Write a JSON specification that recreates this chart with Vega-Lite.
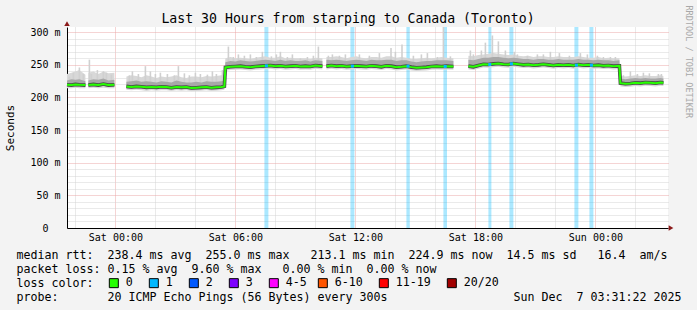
{
  "$schema": "https://vega.github.io/schema/vega-lite/v6.json",
  "width": 601,
  "height": 201,
  "autosize": "none",
  "padding": {"left": 67, "top": 27, "right": 29, "bottom": 82},
  "background": "#f3f3f3",
  "config": {"view": {"fill": "white", "stroke": null}, "font": "DejaVu Sans Mono"},
  "title": {
    "text": "Last 30 Hours from starping to Canada (Toronto)",
    "font": "DejaVu Sans Mono", "fontSize": 13.2, "fontWeight": "normal", "color": "black",
    "anchor": "middle", "frame": "group", "dx": -19.5, "dy": 31.5, "offset": 0, "baseline": "alphabetic"
  },
  "datasets": {
    "rtt": [
      {"s":1,"t":-2.42,"m":219.5,"lo":214,"q1":216.5,"q3":226,"hi":236},
      {"s":1,"t":-2.2,"m":219,"lo":214,"q1":216,"q3":228,"hi":238},
      {"s":1,"t":-2.0,"m":220,"lo":215,"q1":217,"q3":227,"hi":240},
      {"s":1,"t":-1.8,"m":219.5,"lo":214,"q1":216.5,"q3":228,"hi":242},
      {"s":1,"t":-1.5,"m":219,"lo":214,"q1":216,"q3":225,"hi":235},
      {"s":2,"t":-1.35,"m":219,"lo":214,"q1":216,"q3":226,"hi":238},
      {"s":2,"t":-1.1,"m":220,"lo":215,"q1":217,"q3":228,"hi":240},
      {"s":2,"t":-0.85,"m":219,"lo":214,"q1":216,"q3":227,"hi":236},
      {"s":2,"t":-0.6,"m":220.5,"lo":215,"q1":217.5,"q3":229,"hi":240},
      {"s":2,"t":-0.35,"m":219,"lo":214,"q1":216,"q3":226,"hi":237},
      {"s":2,"t":-0.05,"m":219.5,"lo":214,"q1":216.5,"q3":227,"hi":238},
      {"s":3,"t":0.55,"m":217,"lo":212,"q1":214,"q3":224,"hi":232},
      {"s":3,"t":0.8,"m":216,"lo":211,"q1":213,"q3":225,"hi":234},
      {"s":3,"t":1.05,"m":217,"lo":212,"q1":214,"q3":226,"hi":233},
      {"s":3,"t":1.3,"m":216.5,"lo":211,"q1":213.5,"q3":224,"hi":231},
      {"s":3,"t":1.55,"m":215.5,"lo":210,"q1":212.5,"q3":225,"hi":234},
      {"s":3,"t":1.8,"m":216,"lo":211,"q1":213,"q3":224,"hi":232},
      {"s":3,"t":2.05,"m":215.5,"lo":210.5,"q1":212.5,"q3":223,"hi":230},
      {"s":3,"t":2.3,"m":216.5,"lo":211,"q1":213.5,"q3":225,"hi":232},
      {"s":3,"t":2.55,"m":216,"lo":211,"q1":213,"q3":224,"hi":231},
      {"s":3,"t":2.8,"m":215,"lo":210,"q1":212,"q3":223,"hi":232},
      {"s":3,"t":3.05,"m":216,"lo":211,"q1":213,"q3":226,"hi":234},
      {"s":3,"t":3.3,"m":215.5,"lo":210.5,"q1":212.5,"q3":224,"hi":231},
      {"s":3,"t":3.55,"m":216,"lo":211,"q1":213,"q3":223,"hi":230},
      {"s":3,"t":3.8,"m":214.5,"lo":209.5,"q1":211.5,"q3":223,"hi":232},
      {"s":3,"t":4.05,"m":215,"lo":210,"q1":212,"q3":224,"hi":232},
      {"s":3,"t":4.3,"m":215.5,"lo":210.5,"q1":212.5,"q3":223,"hi":231},
      {"s":3,"t":4.55,"m":216,"lo":211,"q1":213,"q3":225,"hi":233},
      {"s":3,"t":4.8,"m":215,"lo":210,"q1":212,"q3":224,"hi":232},
      {"s":3,"t":5.05,"m":215.5,"lo":210.5,"q1":212.5,"q3":224,"hi":233},
      {"s":3,"t":5.3,"m":216,"lo":211,"q1":213,"q3":225,"hi":234},
      {"s":3,"t":5.45,"m":217,"lo":212,"q1":214,"q3":226,"hi":234},
      {"s":3,"t":5.5,"m":246,"lo":241,"q1":243.5,"q3":254,"hi":260},
      {"s":3,"t":5.75,"m":247,"lo":242,"q1":244.5,"q3":256,"hi":262},
      {"s":3,"t":6.0,"m":247.5,"lo":242.5,"q1":245,"q3":255,"hi":260},
      {"s":3,"t":6.25,"m":248,"lo":243,"q1":245.5,"q3":257,"hi":261},
      {"s":3,"t":6.5,"m":247,"lo":242,"q1":244.5,"q3":256,"hi":260},
      {"s":3,"t":6.75,"m":246.5,"lo":241.5,"q1":244,"q3":255,"hi":259},
      {"s":3,"t":7.0,"m":247.5,"lo":242.5,"q1":245,"q3":256,"hi":261},
      {"s":3,"t":7.25,"m":248,"lo":243,"q1":245.5,"q3":257,"hi":262},
      {"s":3,"t":7.5,"m":248.5,"lo":243.5,"q1":246,"q3":258,"hi":263},
      {"s":3,"t":7.75,"m":249,"lo":244,"q1":246.5,"q3":257,"hi":261},
      {"s":3,"t":8.0,"m":248,"lo":243,"q1":245.5,"q3":256,"hi":261},
      {"s":3,"t":8.25,"m":248.5,"lo":243.5,"q1":246,"q3":258,"hi":263},
      {"s":3,"t":8.5,"m":247.5,"lo":242.5,"q1":245,"q3":256,"hi":260},
      {"s":3,"t":8.75,"m":248,"lo":243,"q1":245.5,"q3":257,"hi":261},
      {"s":3,"t":9.0,"m":248.5,"lo":243.5,"q1":246,"q3":256,"hi":260},
      {"s":3,"t":9.25,"m":247.5,"lo":242.5,"q1":245,"q3":256,"hi":260},
      {"s":3,"t":9.5,"m":248,"lo":243,"q1":245.5,"q3":257,"hi":260},
      {"s":3,"t":9.75,"m":247.5,"lo":242.5,"q1":245,"q3":255,"hi":259},
      {"s":3,"t":10.0,"m":249,"lo":244,"q1":246.5,"q3":257,"hi":261},
      {"s":3,"t":10.35,"m":248,"lo":243,"q1":245.5,"q3":256,"hi":260},
      {"s":4,"t":10.55,"m":248,"lo":243,"q1":245.5,"q3":258,"hi":262},
      {"s":4,"t":10.8,"m":249,"lo":244,"q1":246.5,"q3":257,"hi":262},
      {"s":4,"t":11.05,"m":248,"lo":243,"q1":245.5,"q3":258,"hi":263},
      {"s":4,"t":11.3,"m":248.5,"lo":243.5,"q1":246,"q3":257,"hi":262},
      {"s":4,"t":11.55,"m":247.5,"lo":242.5,"q1":245,"q3":256,"hi":260},
      {"s":4,"t":11.8,"m":248,"lo":243,"q1":245.5,"q3":257,"hi":262},
      {"s":4,"t":12.05,"m":248.5,"lo":243.5,"q1":246,"q3":258,"hi":263},
      {"s":4,"t":12.3,"m":248,"lo":243,"q1":245.5,"q3":257,"hi":261},
      {"s":4,"t":12.55,"m":247.5,"lo":242.5,"q1":245,"q3":256,"hi":260},
      {"s":4,"t":12.8,"m":248.5,"lo":243.5,"q1":246,"q3":258,"hi":262},
      {"s":4,"t":13.05,"m":248,"lo":243,"q1":245.5,"q3":257,"hi":262},
      {"s":4,"t":13.3,"m":247,"lo":242,"q1":244.5,"q3":257,"hi":261},
      {"s":4,"t":13.55,"m":248.5,"lo":243.5,"q1":246,"q3":258,"hi":263},
      {"s":4,"t":13.8,"m":248,"lo":243,"q1":245.5,"q3":258,"hi":263},
      {"s":4,"t":14.05,"m":246.5,"lo":241.5,"q1":244,"q3":256,"hi":261},
      {"s":4,"t":14.3,"m":247,"lo":242,"q1":244.5,"q3":257,"hi":262},
      {"s":4,"t":14.55,"m":248,"lo":243,"q1":245.5,"q3":257,"hi":261},
      {"s":4,"t":14.8,"m":246.5,"lo":241.5,"q1":244,"q3":255,"hi":259},
      {"s":4,"t":15.05,"m":245.5,"lo":240.5,"q1":243,"q3":254,"hi":259},
      {"s":4,"t":15.3,"m":246,"lo":241,"q1":243.5,"q3":255,"hi":260},
      {"s":4,"t":15.55,"m":246.5,"lo":241.5,"q1":244,"q3":256,"hi":261},
      {"s":4,"t":15.8,"m":247.5,"lo":242.5,"q1":245,"q3":256,"hi":260},
      {"s":4,"t":16.05,"m":248,"lo":243,"q1":245.5,"q3":257,"hi":261},
      {"s":4,"t":16.3,"m":247.5,"lo":242.5,"q1":245,"q3":257,"hi":262},
      {"s":4,"t":16.55,"m":248,"lo":243,"q1":245.5,"q3":257,"hi":261},
      {"s":4,"t":16.9,"m":247.5,"lo":242.5,"q1":245,"q3":256,"hi":260},
      {"s":5,"t":17.65,"m":248,"lo":243,"q1":245.5,"q3":258,"hi":264},
      {"s":5,"t":17.9,"m":247,"lo":242,"q1":244.5,"q3":257,"hi":263},
      {"s":5,"t":18.15,"m":249,"lo":244,"q1":246.5,"q3":259,"hi":265},
      {"s":5,"t":18.4,"m":251,"lo":246,"q1":248.5,"q3":261,"hi":266},
      {"s":5,"t":18.65,"m":250.5,"lo":245.5,"q1":248,"q3":261,"hi":267},
      {"s":5,"t":18.9,"m":251.5,"lo":246.5,"q1":249,"q3":262,"hi":268},
      {"s":5,"t":19.15,"m":252,"lo":247,"q1":249.5,"q3":262,"hi":267},
      {"s":5,"t":19.4,"m":251,"lo":246,"q1":248.5,"q3":261,"hi":266},
      {"s":5,"t":19.65,"m":250.5,"lo":245.5,"q1":248,"q3":260,"hi":265},
      {"s":5,"t":19.9,"m":252,"lo":247,"q1":249.5,"q3":261,"hi":266},
      {"s":5,"t":20.15,"m":251,"lo":246,"q1":248.5,"q3":260,"hi":264},
      {"s":5,"t":20.4,"m":250,"lo":245,"q1":247.5,"q3":259,"hi":263},
      {"s":5,"t":20.65,"m":250.5,"lo":245.5,"q1":248,"q3":259,"hi":264},
      {"s":5,"t":20.9,"m":249.5,"lo":244.5,"q1":247,"q3":258,"hi":262},
      {"s":5,"t":21.15,"m":250,"lo":245,"q1":247.5,"q3":259,"hi":263},
      {"s":5,"t":21.4,"m":251,"lo":246,"q1":248.5,"q3":259,"hi":263},
      {"s":5,"t":21.65,"m":250,"lo":245,"q1":247.5,"q3":258,"hi":262},
      {"s":5,"t":21.9,"m":249,"lo":244,"q1":246.5,"q3":258,"hi":262},
      {"s":5,"t":22.15,"m":250,"lo":245,"q1":247.5,"q3":259,"hi":263},
      {"s":5,"t":22.4,"m":249.5,"lo":244.5,"q1":247,"q3":258,"hi":262},
      {"s":5,"t":22.65,"m":250,"lo":245,"q1":247.5,"q3":258,"hi":262},
      {"s":5,"t":22.9,"m":249,"lo":244,"q1":246.5,"q3":258,"hi":262},
      {"s":5,"t":23.15,"m":250.5,"lo":245.5,"q1":248,"q3":259,"hi":263},
      {"s":5,"t":23.4,"m":249.5,"lo":244.5,"q1":247,"q3":258,"hi":262},
      {"s":5,"t":23.65,"m":250,"lo":245,"q1":247.5,"q3":258,"hi":261},
      {"s":5,"t":23.9,"m":249,"lo":244,"q1":246.5,"q3":257,"hi":261},
      {"s":5,"t":24.15,"m":249.5,"lo":244.5,"q1":247,"q3":258,"hi":262},
      {"s":5,"t":24.4,"m":248.5,"lo":243.5,"q1":246,"q3":257,"hi":260},
      {"s":5,"t":24.65,"m":249,"lo":244,"q1":246.5,"q3":257,"hi":261},
      {"s":5,"t":24.9,"m":248,"lo":243,"q1":245.5,"q3":256,"hi":260},
      {"s":5,"t":25.2,"m":248.5,"lo":243.5,"q1":246,"q3":257,"hi":260},
      {"s":5,"t":25.25,"m":222,"lo":217,"q1":219.5,"q3":229,"hi":233},
      {"s":5,"t":25.5,"m":221,"lo":216,"q1":218.5,"q3":228,"hi":232},
      {"s":5,"t":25.75,"m":221.5,"lo":216.5,"q1":219,"q3":229,"hi":233},
      {"s":5,"t":26.0,"m":222.5,"lo":217.5,"q1":220,"q3":230,"hi":234},
      {"s":5,"t":26.25,"m":222,"lo":217,"q1":219.5,"q3":229,"hi":233},
      {"s":5,"t":26.5,"m":223,"lo":218,"q1":220.5,"q3":230,"hi":234},
      {"s":5,"t":26.75,"m":222.5,"lo":217.5,"q1":220,"q3":229,"hi":233},
      {"s":5,"t":27.0,"m":222,"lo":217,"q1":219.5,"q3":229,"hi":233},
      {"s":5,"t":27.25,"m":223,"lo":218,"q1":220.5,"q3":230,"hi":234},
      {"s":5,"t":27.4,"m":222.5,"lo":217.5,"q1":220,"q3":229,"hi":233}
    ],
    "spikes": [
      {"t":-2.3,"b":219,"v":232},{"t":-2.1,"b":219,"v":238},{"t":-1.8,"b":219.5,"v":246},{"t":-1.6,"b":219,"v":236},
      {"t":-1.3,"b":219,"v":258},{"t":-1.2,"b":220,"v":236},{"t":-0.9,"b":219,"v":242},{"t":-0.6,"b":220.5,"v":240},
      {"t":-0.45,"b":219,"v":238},{"t":-0.2,"b":219.5,"v":235},
      {"t":0.7,"b":217,"v":234},{"t":0.85,"b":216,"v":240},{"t":1.15,"b":217,"v":236},{"t":1.5,"b":215.5,"v":248},
      {"t":1.75,"b":216,"v":240},{"t":2.0,"b":215.5,"v":236},{"t":2.25,"b":216.5,"v":238},{"t":2.6,"b":216,"v":236},
      {"t":2.95,"b":215,"v":234},{"t":3.15,"b":216,"v":248},{"t":3.45,"b":215.5,"v":237},{"t":3.7,"b":216,"v":234},
      {"t":4.0,"b":215,"v":238},{"t":4.25,"b":215.5,"v":236},{"t":4.6,"b":216,"v":235},{"t":4.85,"b":215,"v":240},
      {"t":5.05,"b":215.5,"v":236},{"t":5.35,"b":216,"v":242},
      {"t":5.65,"b":247,"v":278},{"t":5.9,"b":247,"v":262},{"t":6.15,"b":247.5,"v":266},{"t":6.45,"b":247,"v":264},
      {"t":6.75,"b":246.5,"v":266},{"t":7.05,"b":247.5,"v":262},{"t":7.35,"b":248,"v":270},{"t":7.8,"b":249,"v":263},
      {"t":8.05,"b":248,"v":266},{"t":8.25,"b":248.5,"v":270},{"t":8.6,"b":247.5,"v":262},{"t":8.85,"b":248,"v":266},
      {"t":9.25,"b":247.5,"v":260},{"t":9.6,"b":248,"v":262},{"t":9.9,"b":247.5,"v":264},{"t":10.15,"b":249,"v":278},
      {"t":10.65,"b":248,"v":264},{"t":10.85,"b":249,"v":266},{"t":11.2,"b":248.5,"v":264},{"t":11.5,"b":248,"v":266},
      {"t":12.2,"b":248,"v":266},{"t":12.7,"b":248,"v":264},{"t":13.2,"b":247,"v":268},{"t":13.78,"b":248,"v":276},
      {"t":14.0,"b":246.5,"v":270},{"t":14.33,"b":247,"v":281},{"t":14.9,"b":246.5,"v":264},{"t":15.3,"b":246,"v":266},
      {"t":15.6,"b":246.5,"v":268},{"t":16.1,"b":248,"v":262},{"t":16.4,"b":247.5,"v":308},{"t":16.75,"b":248,"v":263},
      {"t":17.75,"b":248,"v":272},{"t":17.9,"b":247,"v":266},{"t":18.3,"b":250,"v":272},{"t":18.5,"b":251,"v":284},
      {"t":18.85,"b":251.5,"v":295},{"t":19.15,"b":252,"v":286},{"t":19.5,"b":251,"v":272},{"t":19.95,"b":252,"v":270},
      {"t":20.1,"b":251,"v":266},{"t":20.6,"b":250.5,"v":264},{"t":21.1,"b":250,"v":266},{"t":21.4,"b":251,"v":266},
      {"t":21.75,"b":250,"v":270},{"t":22.2,"b":250,"v":268},{"t":22.7,"b":250,"v":264},{"t":23.25,"b":250.5,"v":268},
      {"t":23.6,"b":250,"v":266},{"t":24.1,"b":249.5,"v":264},{"t":24.4,"b":248.5,"v":262},{"t":24.75,"b":249,"v":262},
      {"t":25.0,"b":248,"v":262},
      {"t":25.4,"b":221,"v":234},{"t":25.75,"b":221.5,"v":240},{"t":26.1,"b":222.5,"v":236},{"t":26.4,"b":222.5,"v":238},
      {"t":26.7,"b":222.5,"v":237},{"t":27.15,"b":223,"v":236},{"t":27.3,"b":223,"v":236}
    ],
    "loss": [
      {"t0":7.45,"t1":7.65,"c":7.55,"m":248.5,"loss":"1"},
      {"t0":11.75,"t1":11.95,"c":11.85,"m":248,"loss":"1"},
      {"t0":14.55,"t1":14.72,"c":14.63,"m":248,"loss":"1"},
      {"t0":16.4,"t1":16.58,"c":16.49,"m":247.5,"loss":"1"},
      {"t0":18.65,"t1":18.8,"c":18.72,"m":250.5,"loss":"1"},
      {"t0":19.7,"t1":19.9,"c":19.8,"m":251.5,"loss":"1"},
      {"t0":22.95,"t1":23.15,"c":23.05,"m":249.5,"loss":"1"},
      {"t0":23.7,"t1":23.9,"c":23.8,"m":249.5,"loss":"1"}
    ],
    "one": [{}]
  },
  "resolve": {"axis": {"y": "independent"}},
  "layer": [
    {
      "data": {"name": "loss"},
      "mark": {"type": "rect", "opacity": 0.33},
      "encoding": {
        "x": {"field": "t0", "type": "quantitative",
          "scale": {"domain": [-2.42, 27.63], "nice": false, "zero": false},
          "axis": {
            "values": [-2,-1,0,1,2,3,4,5,6,7,8,9,10,11,12,13,14,15,16,17,18,19,20,21,22,23,24,25,26,27],
            "labelExpr": "datum.value == 0 ? 'Sat 00:00' : datum.value == 6 ? 'Sat 06:00' : datum.value == 12 ? 'Sat 12:00' : datum.value == 18 ? 'Sat 18:00' : datum.value == 24 ? 'Sun 00:00' : ''",
            "labelFont": "DejaVu Sans Mono", "labelFontSize": 10, "labelColor": "black", "labelPadding": 4,
            "labelOverlap": false, "labelFlush": false, "ticks": false,
            "domainColor": "black", "domainWidth": 1,
            "grid": true, "gridDash": [1, 1],
            "gridColor": {"condition": {"test": "datum.value % 3 === 0", "value": "#eaa8a8"}, "value": "#d4d4d4"},
            "title": [
              "median rtt:\u00a0\u00a0238.4\u00a0ms\u00a0avg\u00a0\u00a0255.0\u00a0ms\u00a0max\u00a0\u00a0\u00a0213.1\u00a0ms\u00a0min\u00a0\u00a0224.9\u00a0ms\u00a0now\u00a0\u00a014.5\u00a0ms\u00a0sd\u00a0\u00a0\u00a016.4\u00a0\u00a0am/s",
              "packet loss:\u00a00.15\u00a0%\u00a0avg\u00a0\u00a09.60\u00a0%\u00a0max\u00a0\u00a0\u00a00.00\u00a0%\u00a0min\u00a0\u00a00.00\u00a0%\u00a0now",
              "loss color:",
              "probe:\u00a0\u00a0\u00a0\u00a0\u00a0\u00a0\u00a020\u00a0ICMP\u00a0Echo\u00a0Pings\u00a0(56\u00a0Bytes)\u00a0every\u00a0300s\u00a0\u00a0\u00a0\u00a0\u00a0\u00a0\u00a0\u00a0\u00a0\u00a0\u00a0\u00a0\u00a0\u00a0\u00a0\u00a0\u00a0\u00a0Sun\u00a0Dec\u00a0\u00a07\u00a003:31:22\u00a02025"
            ],
            "titleX": -51, "titleY": 30, "titleAlign": "left", "titleAnchor": "start", "titleBaseline": "alphabetic",
            "titleFont": "DejaVu Sans Mono", "titleFontSize": 11.63, "titleFontWeight": "normal", "titleColor": "black",
            "titleLineHeight": 14
          }
        },
        "x2": {"field": "t1"},
        "color": {"field": "loss", "type": "nominal",
          "scale": {"domain": ["0","1","2","3","4-5","6-10","11-19","20/20"],
                    "range": ["#26ff00","#00b8ff","#0059ff","#7e00ff","#ff00ff","#ff5500","#ff0000","#a10000"]},
          "legend": {
            "values": ["0","1","2","3","4-5"],
            "orient": "none", "legendX": 41, "legendY": 250, "direction": "horizontal", "columns": 5,
            "title": null, "padding": 0, "symbolType": "square", "symbolSize": 81, "symbolStrokeColor": "black",
            "symbolStrokeWidth": 1, "symbolOpacity": 1, "labelFont": "DejaVu Sans Mono", "labelFontSize": 11.63,
            "labelColor": "black", "labelOffset": 6, "columnPadding": 14, "labelLimit": 200
          }
        }
      }
    },
    {
      "data": {"name": "loss"},
      "mark": {"type": "rect", "opacity": 0},
      "encoding": {
        "x": {"field": "t0", "type": "quantitative", "scale": {"domain": [-2.42, 27.63], "nice": false, "zero": false}},
        "x2": {"field": "t1"},
        "fill": {"field": "loss", "type": "nominal",
          "scale": {"domain": ["6-10","11-19","20/20"], "range": ["#ff5500","#ff0000","#a10000"]},
          "legend": {
            "orient": "none", "legendX": 250, "legendY": 250, "direction": "horizontal", "columns": 3,
            "title": null, "padding": 0, "symbolType": "square", "symbolSize": 81, "symbolStrokeColor": "black",
            "symbolStrokeWidth": 1, "symbolOpacity": 1, "labelFont": "DejaVu Sans Mono", "labelFontSize": 11.63,
            "labelColor": "black", "labelOffset": 6, "columnPadding": 14, "labelLimit": 200
          }
        }
      }
    },
    {
      "data": {"name": "rtt"},
      "mark": {"type": "area", "color": "#d8d8d8"},
      "encoding": {
        "x": {"field": "t", "type": "quantitative", "scale": {"domain": [-2.42, 27.63], "nice": false, "zero": false}},
        "y": {"field": "lo", "type": "quantitative", "scale": {"domain": [0, 308], "nice": false, "zero": true},
          "axis": {
            "values": [0,10,20,30,40,50,60,70,80,90,100,110,120,130,140,150,160,170,180,190,200,210,220,230,240,250,260,270,280,290,300],
            "labelExpr": "datum.value == 0 ? '0' : (datum.value % 50 == 0 ? datum.value + ' m' : '')",
            "labelFont": "DejaVu Sans Mono", "labelFontSize": 10, "labelColor": "black",
            "labelPadding": {"condition": {"test": "datum.value == 0", "value": 19}, "value": 7},
            "labelOverlap": false, "labelBaseline": "middle", "ticks": false,
            "domainColor": "black", "domainWidth": 1,
            "grid": true, "gridDash": [1, 1],
            "gridColor": {"condition": {"test": "datum.value % 50 === 0", "value": "#eaa8a8"}, "value": "#d4d4d4"},
            "title": "Seconds", "titleX": -57, "titleY": 100.5, "titleAngle": -90, "titleAlign": "center", "titleBaseline": "middle",
            "titleFont": "DejaVu Sans Mono", "titleFontSize": 11, "titleFontWeight": "normal", "titleColor": "black"
          }
        },
        "y2": {"field": "hi"},
        "detail": {"field": "s"}
      }
    },
    {
      "data": {"name": "spikes"},
      "mark": {"type": "rule", "color": "#d0d0d0", "strokeWidth": 1.6},
      "encoding": {
        "x": {"field": "t", "type": "quantitative", "scale": {"domain": [-2.42, 27.63], "nice": false, "zero": false}},
        "y": {"field": "b", "type": "quantitative", "scale": {"domain": [0, 308], "nice": false}, "axis": null},
        "y2": {"field": "v"}
      }
    },
    {
      "data": {"name": "rtt"},
      "mark": {"type": "area", "color": "#a8a8a8"},
      "encoding": {
        "x": {"field": "t", "type": "quantitative", "scale": {"domain": [-2.42, 27.63], "nice": false, "zero": false}},
        "y": {"field": "q1", "type": "quantitative", "scale": {"domain": [0, 308], "nice": false}, "axis": null},
        "y2": {"field": "q3"},
        "detail": {"field": "s"}
      }
    },
    {
      "data": {"name": "rtt"},
      "mark": {"type": "line", "color": "#4a4a4a", "strokeWidth": 3.6},
      "encoding": {
        "x": {"field": "t", "type": "quantitative", "scale": {"domain": [-2.42, 27.63], "nice": false, "zero": false}},
        "y": {"field": "m", "type": "quantitative", "scale": {"domain": [0, 308], "nice": false}, "axis": null},
        "detail": {"field": "s"}
      }
    },
    {
      "data": {"name": "rtt"},
      "mark": {"type": "line", "color": "#26ff00", "strokeWidth": 2},
      "encoding": {
        "x": {"field": "t", "type": "quantitative", "scale": {"domain": [-2.42, 27.63], "nice": false, "zero": false}},
        "y": {"field": "m", "type": "quantitative", "scale": {"domain": [0, 308], "nice": false}, "axis": null},
        "detail": {"field": "s"}
      }
    },
    {
      "data": {"name": "loss"},
      "mark": {"type": "point", "shape": "square", "filled": true, "size": 9, "opacity": 1},
      "encoding": {
        "x": {"field": "c", "type": "quantitative", "scale": {"domain": [-2.42, 27.63], "nice": false, "zero": false}},
        "y": {"field": "m", "type": "quantitative", "scale": {"domain": [0, 308], "nice": false},
          "axis": {"orient": "right", "labels": false, "ticks": false, "domain": false, "grid": false,
            "title": "RRDTOOL / TOBI OETIKER", "titleX": 20, "titleY": -22, "titleAngle": 90, "titleAlign": "left",
            "titleBaseline": "middle", "titleFont": "DejaVu Sans Mono", "titleFontSize": 8.5, "titleFontWeight": "normal",
            "titleColor": "#a8a8a8"}
        },
        "color": {"field": "loss", "type": "nominal",
          "scale": {"domain": ["0","1","2","3","4-5","6-10","11-19","20/20"],
                    "range": ["#26ff00","#00b8ff","#0059ff","#7e00ff","#ff00ff","#ff5500","#ff0000","#a10000"]},
          "legend": null}
      }
    },
    {
      "data": {"name": "one"},
      "mark": {"type": "point", "shape": "triangle-up", "filled": true, "size": 30, "color": "#8b1a1a", "opacity": 1, "clip": false},
      "encoding": {
        "x": {"datum": -2.42, "type": "quantitative", "scale": {"domain": [-2.42, 27.63], "nice": false, "zero": false}},
        "y": {"datum": 313, "type": "quantitative", "scale": {"domain": [0, 308], "nice": false}, "axis": null}
      }
    },
    {
      "data": {"name": "one"},
      "mark": {"type": "point", "shape": "triangle-right", "filled": true, "size": 30, "color": "#8b1a1a", "opacity": 1, "clip": false},
      "encoding": {
        "x": {"datum": 27.78, "type": "quantitative", "scale": {"domain": [-2.42, 27.63], "nice": false, "zero": false}},
        "y": {"datum": 0, "type": "quantitative", "scale": {"domain": [0, 308], "nice": false}, "axis": null}
      }
    }
  ]
}
